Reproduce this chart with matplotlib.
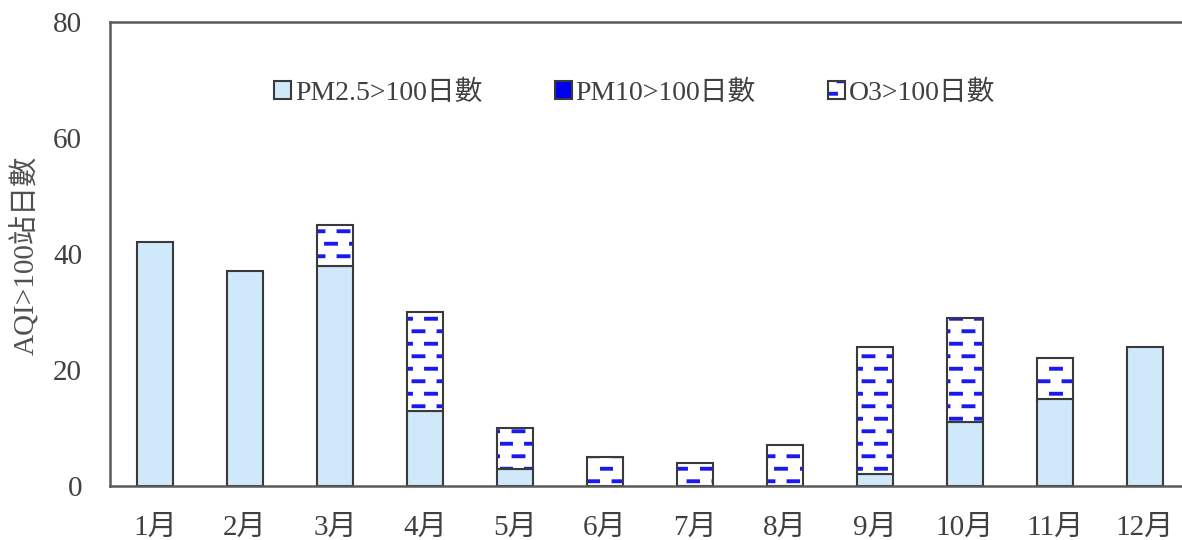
import warnings
import matplotlib
matplotlib.use('Agg')
import matplotlib.pyplot as plt
import numpy as np
from matplotlib import hatch as mhatch
from matplotlib.path import Path

warnings.filterwarnings('ignore')

plt.rcParams['font.family'] = ['Liberation Serif', 'Noto Sans CJK TC', 'DejaVu Sans']
plt.rcParams['hatch.linewidth'] = 2.8


# 自訂短橫線網底 (O3 那種藍色虛線)
class DashHatch(mhatch.HatchPatternBase):
    rows = 8
    cols = 4

    def __init__(self, hatch, density):
        n = hatch.count('d')
        self.num_vertices = self.rows * self.cols * 2 if n else 0

    def set_vertices_and_codes(self, vertices, codes):
        seg = 0.1
        k = 0
        for r in range(self.rows):
            y = (r + 0.5) / self.rows
            off = 0.0 if r % 2 == 0 else 0.5 / self.cols
            for c in range(self.cols):
                x0 = c / self.cols + off + 0.01
                vertices[k] = (x0, y)
                vertices[k + 1] = (x0 + seg, y)
                codes[k] = Path.MOVETO
                codes[k + 1] = Path.LINETO
                k += 2


mhatch._hatch_types.append(DashHatch)

# 資料
months = ['1月', '2月', '3月', '4月', '5月', '6月', '7月', '8月', '9月', '10月', '11月', '12月']
pm25 = [42, 37, 38, 13, 3, 0, 0, 0, 2, 11, 15, 24]
pm10 = [0, 0, 0, 0, 0, 0, 0, 0, 0, 0, 0, 0]
o3 = [0, 0, 7, 17, 7, 5, 4, 7, 22, 18, 7, 0]

x = np.arange(len(months))
edge = '#3a3a3a'
w = 0.4

fig = plt.figure(figsize=(11.82, 5.40), dpi=100)
ax = fig.add_axes([110 / 1182, 54 / 540, 1080 / 1182, 464 / 540])

b1 = ax.bar(x, pm25, w, color='#cfe8fa', edgecolor=edge, linewidth=1.5)
b2 = ax.bar(x, pm10, w, bottom=pm25, color='#0000ee', edgecolor=edge,
            linewidth=1.5)
bottom2 = np.array(pm25) + np.array(pm10)
# 網底用藍色畫, 外框再另外畫一次灰色
b3h = ax.bar(x, o3, w, bottom=bottom2, color='white', edgecolor='#1a1aee',
             linewidth=0, hatch='d')
b3 = ax.bar(x, o3, w, bottom=bottom2, fill=False, edgecolor=edge,
            linewidth=1.5)
# 高度為 0 的柱不要畫邊框
for bars, vals in ((b1, pm25), (b2, pm10), (b3, o3), (b3h, o3)):
    for p, v in zip(bars, vals):
        if v == 0:
            p.set_visible(False)

ax.set_xlim(-0.5, 11.5)
ax.set_ylim(0, 80)
ax.set_yticks([0, 20, 40, 60, 80])
ax.set_xticks(x)
ax.set_xticklabels(months)
ax.tick_params(axis='both', length=0, labelsize=21, colors='#404040')
ax.tick_params(axis='y', pad=20)
ax.tick_params(axis='x', pad=21)

for s in ['left', 'bottom', 'top']:
    ax.spines[s].set_color('#5a5a5a')
    ax.spines[s].set_linewidth(1.8)
ax.spines['right'].set_visible(False)

fig.text(25 / 1182, 1 - 255 / 540, 'AQI>100站日數', rotation=90,
         ha='center', va='center', fontsize=21, color='#505050')

leg = ax.legend(handles=[b1[0], b2[0], (b3h[0], b3[0])],
                labels=['PM2.5>100日數', 'PM10>100日數', 'O3>100日數'],
                loc='center', bbox_to_anchor=(0.486, 0.847), ncol=3,
                frameon=False, fontsize=20, handlelength=0.6,
                handleheight=0.6, handletextpad=0.15, columnspacing=2.6,
                labelcolor='#404040')
for child in leg.findobj(matplotlib.patches.Rectangle):
    child.set_visible(True)
leg.legendPatch.set_visible(False)

fig.savefig('out.png', dpi=100)
